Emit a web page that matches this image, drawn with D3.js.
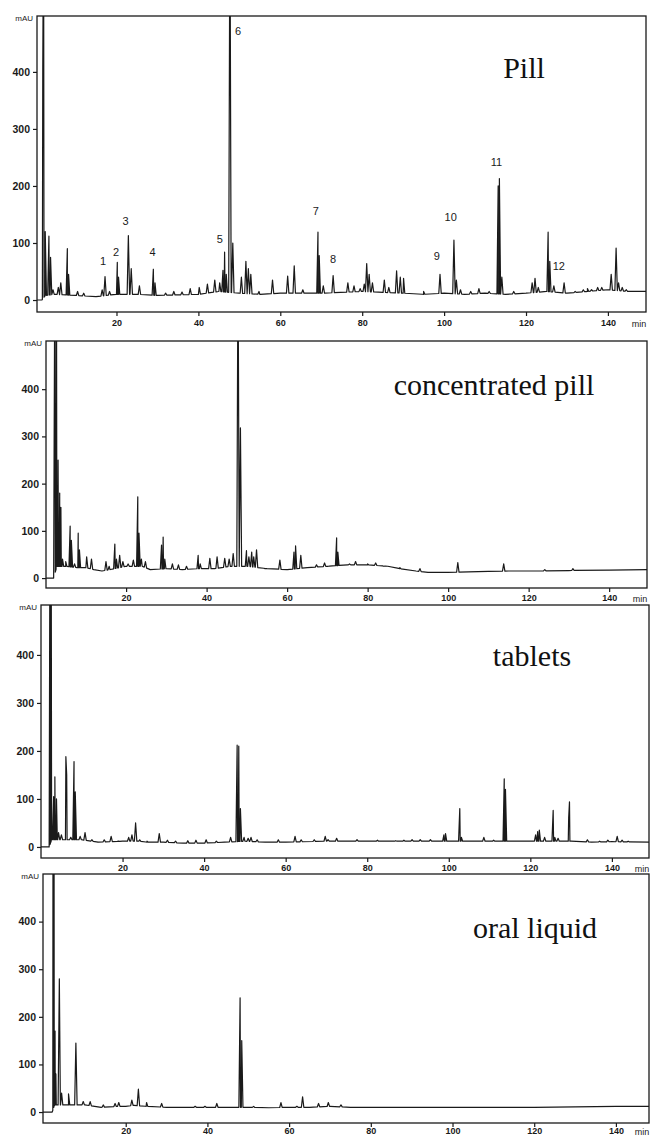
<!DOCTYPE html>
<html>
<head>
<meta charset="utf-8">
<script src="https://cdn.jsdelivr.net/npm/d3@7"></script>
<style>
  html, body { margin: 0; padding: 0; background: #fff; }
  svg { display: block; }
  .tick text { font-family: "Liberation Sans", Arial, sans-serif; fill: #1a1a1a; }
</style>
</head>
<body>
<svg id="chart" width="654" height="1137"></svg>
<script>
// Shared axis ticks
const xTicks = [20, 40, 60, 80, 100, 120, 140];
const yTicks = [0, 100, 200, 300, 400];
const panelNames = ['Pill', 'concentrated pill', 'tablets', 'oral liquid'];

// Pill: baseline points [min, mAU] and peaks [retention time, apex mAU]
const pillBaseline = [[0.6, 0], [1.8, 0], [2.6, 8], [5, 10], [10, 8], [15, 6], [20, 10], [25, 10],
  [30, 8], [40, 10], [45, 15], [50, 12], [55, 10], [60, 12], [70, 12], [80, 15], [90, 12], [95, 10],
  [100, 12], [105, 10], [110, 12], [115, 10], [120, 12], [125, 15], [130, 12], [135, 15], [140, 18],
  [145, 15], [149.3, 15]];
const pillPeaks = [[2.0, 410], [2.2, 700], [2.6, 120], [3.5, 112], [3.9, 75], [4.5, 18], [5.8, 22],
  [6.4, 30], [8.0, 90], [8.3, 45], [10.5, 15], [12, 12], [16.5, 18], [17.2, 41], [18.3, 15],
  [20.2, 66], [20.5, 40], [22.9, 113], [23.6, 55], [25.6, 25], [29.0, 54], [29.4, 30], [32, 12],
  [34, 15], [36, 14], [38, 20], [40.2, 22], [42.2, 28], [44, 35], [45.2, 30], [46.0, 52],
  [46.4, 84], [46.8, 45], [47.7, 700], [48.4, 100], [50.5, 40], [51.6, 68], [52.2, 55], [52.8, 45],
  [54.8, 15], [58.1, 35], [61.8, 42], [63.4, 60], [65.5, 18], [69.2, 119], [69.5, 78], [70.5, 25],
  [72.9, 43], [76.5, 30], [78, 25], [79.5, 20], [80.5, 28], [81.1, 64], [81.7, 45], [82.5, 30],
  [85.4, 35], [86.5, 22], [88.4, 51], [89.3, 40], [90.1, 38], [95, 15], [99.0, 45], [102.4, 105],
  [103, 35], [104, 18], [106.5, 15], [108.5, 20], [111, 15], [113.2, 200], [113.5, 213], [114.1, 40],
  [117, 15], [121.5, 30], [122.2, 38], [123, 22], [125.4, 119], [125.8, 68], [126.8, 25], [129.3, 30],
  [132, 15], [134, 18], [135, 20], [136, 18], [137.5, 22], [138.5, 22], [140.8, 45], [142.0, 91],
  [142.6, 30], [143.5, 22], [144.5, 18]];
// numbered peak labels [text, min, mAU of text baseline]
const pillLabels = [['1', 16.7, 61], ['2', 19.9, 77], ['3', 22.2, 132], ['4', 28.8, 77],
  ['5', 45.2, 100], ['6', 49.7, 465], ['7', 68.7, 149], ['8', 72.9, 65], ['9', 98.2, 70],
  ['10', 101.6, 139], ['11', 112.8, 235], ['12', 128.0, 53]];

// Concentrated pill
const concBaseline = [[0, 0], [2.0, 0], [2.8, 25], [5, 25], [8, 22], [10, 22], [12, 18], [14, 15],
  [16, 18], [20, 25], [24, 25], [26, 18], [30, 20], [34, 18], [38, 20], [42, 20], [46, 25], [50, 25],
  [55, 20], [60, 18], [65, 22], [70, 25], [75, 28], [80, 28], [85, 25], [88, 20], [92, 15], [95, 12],
  [100, 12], [105, 13], [110, 14], [115, 15], [120, 15], [130, 16], [140, 17], [149.4, 18]];
const concPeaks = [[2.3, 700], [2.7, 700], [3.1, 250], [3.5, 180], [3.8, 150], [4.2, 40], [5.0, 35],
  [6.1, 110], [6.4, 80], [7.2, 30], [8.1, 95], [8.4, 60], [10.2, 45], [11.4, 40], [15.0, 35],
  [15.8, 25], [17.2, 72], [17.6, 40], [18.4, 48], [19.2, 35], [20.5, 30], [21.8, 38], [22.9, 172],
  [23.2, 95], [23.8, 40], [24.8, 35], [28.8, 70], [29.2, 87], [29.6, 40], [31.5, 30], [33, 28],
  [35, 25], [37.9, 48], [38.4, 30], [40.8, 42], [42.6, 45], [44.5, 42], [45.6, 40], [46.6, 52],
  [47.8, 700], [48.4, 318], [49.9, 58], [50.5, 45], [51.2, 55], [51.7, 45], [52.4, 60], [54.5, 20],
  [58.2, 38], [61.7, 55], [62.1, 68], [63.4, 48], [67.3, 28], [69.3, 32], [70.2, 25], [72.3, 85],
  [72.6, 55], [75.5, 30], [77, 35], [80, 30], [82, 32], [84, 25], [88, 22], [93, 20], [102.4, 33],
  [113.8, 30], [124, 18], [131, 20]];

// Tablets
const tabBaseline = [[0, 0], [2.0, 0], [2.6, 15], [6, 15], [10, 15], [14, 10], [20, 12], [24, 12],
  [26, 10], [30, 10], [35, 8], [40, 8], [45, 10], [50, 12], [55, 10], [60, 10], [70, 12], [80, 12],
  [90, 12], [100, 12], [110, 12], [120, 12], [130, 12], [135, 10], [140, 11], [149.1, 10]];
const tabPeaks = [[2.2, 700], [2.5, 700], [3.1, 105], [3.4, 146], [3.8, 100], [4.3, 30], [5.0, 25],
  [6.1, 188], [6.3, 150], [7.3, 20], [8.1, 178], [8.4, 115], [9.6, 22], [10.8, 30], [12.5, 15],
  [15.5, 15], [17.2, 22], [19, 12], [21.5, 20], [22.3, 25], [23.2, 50], [24.2, 15], [26, 12],
  [29.0, 28], [31, 14], [33, 12], [36, 13], [38, 14], [40.5, 15], [43, 12], [46.5, 20], [48.1, 212],
  [48.5, 210], [48.9, 80], [49.8, 20], [50.8, 18], [51.5, 20], [53, 15], [58.2, 15], [62.3, 22],
  [63.8, 15], [67, 15], [69.7, 22], [70.4, 15], [72.5, 18], [77.5, 15], [82.5, 14], [85, 12],
  [87, 13], [89, 14], [91, 15], [93, 15], [95.5, 15], [98.8, 25], [99.2, 28], [102.7, 80],
  [103.1, 20], [108.6, 20], [111, 14], [113.6, 142], [113.9, 120], [121.3, 25], [121.8, 32],
  [122.2, 35], [123.5, 20], [125.6, 76], [126.0, 20], [126.8, 18], [129.4, 60], [129.6, 94],
  [134, 15], [137, 12], [139, 14], [141.3, 22], [142.5, 14], [144, 12]];

// Oral liquid
const oralBaseline = [[-0.3, 0], [2.0, 0], [2.6, 15], [6, 15], [10, 15], [14, 10], [18, 12],
  [20, 12], [22, 14], [25, 12], [30, 10], [35, 10], [40, 10], [45, 10], [50, 10], [55, 9], [60, 10],
  [65, 10], [70, 12], [75, 10], [80, 10], [90, 10], [100, 10], [110, 10], [120, 10], [130, 11],
  [140, 12], [148.1, 12]];
const oralPeaks = [[2.2, 700], [2.45, 700], [2.7, 170], [2.9, 80], [3.75, 280], [4.3, 40], [6.0, 38],
  [7.8, 145], [9.6, 22], [11.3, 22], [14.5, 15], [17.4, 18], [18.3, 20], [21.5, 25], [23.1, 48],
  [25.1, 20], [28.8, 18], [37, 12], [39.4, 12], [42.3, 18], [48.0, 240], [48.4, 150], [51.3, 12],
  [58.0, 20], [61.9, 12], [63.3, 32], [67.2, 18], [69.6, 20], [72.7, 15]];

const series = [
  { baseline: pillBaseline, peaks: pillPeaks, labels: pillLabels },
  { baseline: concBaseline, peaks: concPeaks, labels: [] },
  { baseline: tabBaseline, peaks: tabPeaks, labels: [] },
  { baseline: oralBaseline, peaks: oralPeaks, labels: [] }
];

// page layout of each scanned panel (pixels) and its visible axis window
const layout = [
  { left: 37, right: 646, top: 16, bottom: 312, t0: 0.59, t1: 149.3, v0: -21, v1: 498, titleX: 524, titleY: 78, pad: 4 },
  { left: 46, right: 647, top: 341, bottom: 588, t0: 0.1, t1: 149.4, v0: -21, v1: 502, titleX: 494, titleY: 395, pad: 3 },
  { left: 41, right: 649, top: 605, bottom: 858, t0: 0, t1: 149.1, v0: -23, v1: 504, titleX: 532, titleY: 666, pad: 3 },
  { left: 43, right: 649, top: 874, bottom: 1123, t0: -0.25, t1: 148.1, v0: -23, v1: 500, titleX: 535, titleY: 938, pad: 1 }
];

const ink = '#1a1a1a';
const peakHalfWidth = 0.3; // min
const svg = d3.select('#chart');

function tracePoints(baseline, peaks) {
  const bt = baseline.map((d) => d[0]);
  const bv = baseline.map((d) => d[1]);
  const baseAt = (t) => {
    const i = d3.bisectLeft(bt, t);
    if (i <= 0) return bv[0];
    if (i >= bt.length) return bv[bv.length - 1];
    const k = (t - bt[i - 1]) / (bt[i] - bt[i - 1]);
    return bv[i - 1] + k * (bv[i] - bv[i - 1]);
  };
  const pts = baseline.map((d) => [d[0], d[1]]);
  peaks.forEach(([t, h]) => {
    pts.push([t - peakHalfWidth, baseAt(t - peakHalfWidth)]);
    pts.push([t, h]);
    pts.push([t + peakHalfWidth, baseAt(t + peakHalfWidth)]);
  });
  return pts.sort((a, b) => a[0] - b[0]);
}

layout.forEach((p, i) => {
  const s = series[i];
  const x = d3.scaleLinear().domain([p.t0, p.t1]).range([p.left, p.right]);
  const y = d3.scaleLinear().domain([p.v0, p.v1]).range([p.bottom, p.top]);
  const g = svg.append('g').attr('class', `panel-${i}`);

  const clipId = `clip-${i}`;
  g.append('clipPath').attr('id', clipId)
    .append('rect')
    .attr('x', p.left).attr('y', p.top)
    .attr('width', p.right - p.left).attr('height', p.bottom - p.top);

  // trace
  const line = d3.line().x((d) => x(d[0])).y((d) => y(d[1]));
  g.append('path')
    .attr('clip-path', `url(#${clipId})`)
    .attr('d', line(tracePoints(s.baseline, s.peaks)))
    .attr('fill', 'none')
    .attr('stroke', ink)
    .attr('stroke-width', 1.2)
    .attr('stroke-linejoin', 'round');

  // frame
  g.append('rect')
    .attr('x', p.left).attr('y', p.top)
    .attr('width', p.right - p.left).attr('height', p.bottom - p.top)
    .attr('fill', 'none')
    .attr('stroke', ink)
    .attr('stroke-width', 1.3);

  const xAxis = g.append('g')
    .attr('transform', `translate(0,${p.bottom})`)
    .call(d3.axisBottom(x).tickValues(xTicks).tickSize(4).tickSizeOuter(0).tickPadding(p.pad));
  xAxis.select('.domain').remove();
  xAxis.selectAll('.tick line').attr('stroke', ink).attr('stroke-width', 1.2);
  xAxis.selectAll('.tick text').attr('font-size', 9).attr('font-weight', 'bold');

  xAxis.append('text')
    .attr('x', p.right - 7).attr('y', 4 + p.pad + 7)
    .attr('text-anchor', 'middle')
    .attr('font-family', 'Liberation Sans, Arial, sans-serif')
    .attr('font-size', 9).attr('fill', ink)
    .text('min');

  const yAxis = g.append('g')
    .attr('transform', `translate(${p.left},0)`)
    .call(d3.axisLeft(y).tickValues(yTicks).tickSize(4).tickSizeOuter(0).tickPadding(3));
  yAxis.select('.domain').remove();
  yAxis.selectAll('.tick line').attr('stroke', ink).attr('stroke-width', 1.2);
  yAxis.selectAll('.tick text').attr('font-size', 10.5).attr('font-weight', 'bold');

  g.append('text')
    .attr('x', p.left - 4).attr('y', p.top + 5)
    .attr('text-anchor', 'end')
    .attr('font-family', 'Liberation Sans, Arial, sans-serif')
    .attr('font-size', 8).attr('fill', ink)
    .text('mAU');

  g.append('text')
    .attr('x', p.titleX).attr('y', p.titleY)
    .attr('text-anchor', 'middle')
    .attr('font-family', 'Liberation Serif, Times New Roman, serif')
    .attr('font-size', 30).attr('fill', '#111')
    .text(panelNames[i]);

  g.selectAll('text.peak-label')
    .data(s.labels)
    .join('text')
    .attr('class', 'peak-label')
    .attr('x', (d) => x(d[1])).attr('y', (d) => y(d[2]))
    .attr('text-anchor', 'middle')
    .attr('font-family', 'Liberation Sans, Arial, sans-serif')
    .attr('font-size', 11).attr('fill', ink)
    .text((d) => d[0]);
});
</script>
</body>
</html>
